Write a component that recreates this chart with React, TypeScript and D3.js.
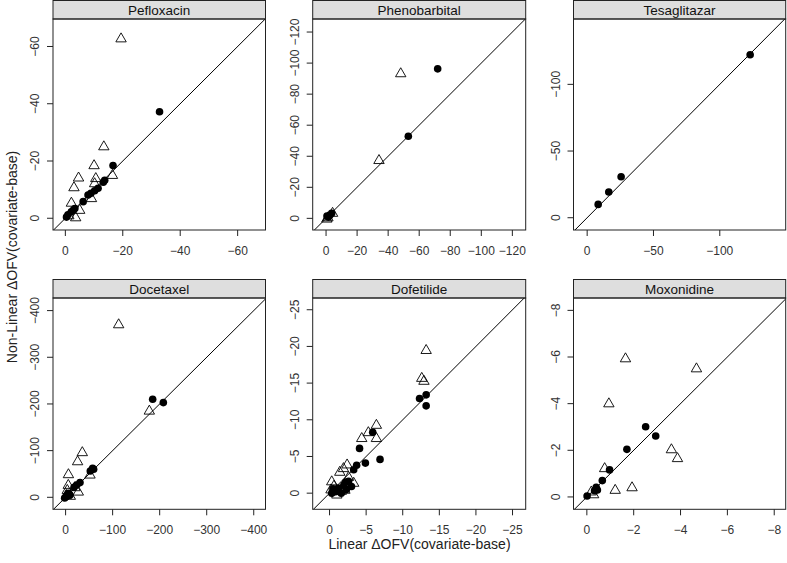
import React from "react";
import * as d3 from "d3";

// ---- data (values as plotted: ΔOFV, negative) ----
const drugNames = ["Pefloxacin", "Phenobarbital", "Tesaglitazar", "Docetaxel", "Dofetilide", "Moxonidine"];

const pefloxacinTri: [number, number][] = [
  [-19.4, -62.8], [-13.4, -25.1], [-10.0, -18.5], [-4.6, -14.2], [-3.0, -10.8], [-10.6, -14.0],
  [-16.4, -15.1], [-10.2, -12.2], [-9.1, -7.0], [-2.1, -5.4], [-5.0, -2.9], [-3.6, -0.3], [-1.2, -1.0],
];
const pefloxacinCir: [number, number][] = [
  [-32.8, -37.2], [-16.6, -18.4], [-13.7, -13.3], [-13.2, -12.6], [-11.4, -10.5], [-10.2, -9.6], [-8.9, -8.7],
  [-7.9, -8.1], [-6.2, -5.8], [-3.3, -3.4], [-2.1, -2.3], [-2.8, -2.9], [-0.9, -1.2], [-0.4, -0.4],
];

const phenobarbitalTri: [number, number][] = [
  [-48.1, -93.4], [-34.1, -37.5], [-4.2, -3.5], [-0.5, 0.2], [-1.2, -0.6],
];
const phenobarbitalCir: [number, number][] = [
  [-71.9, -96.3], [-53.0, -52.9], [-0.6, -1.5], [-1.5, -0.8], [-3.6, -3.3], [-2.3, -1.8],
];

const tesaglitazarTri: [number, number][] = [];
const tesaglitazarCir: [number, number][] = [
  [-122.9, -122.2], [-25.6, -30.7], [-16.3, -19.3], [-8.3, -10.0],
];

const docetaxelTri: [number, number][] = [
  [-112.8, -370.5], [-178.0, -185.5], [-35.5, -96.5], [-25.5, -77.0], [-6.0, -49.3], [-5.7, -26.4],
  [-3.6, -15.6], [-27.0, -12.0], [-20.0, -21.4], [-51.9, -48.5], [-1.5, -5.0], [-10.0, -3.0],
];
const docetaxelCir: [number, number][] = [
  [-185.1, -210.0], [-207.8, -202.9], [-59.6, -60.0], [-52.5, -56.4], [-57.4, -62.2], [-30.6, -31.5],
  [-23.4, -26.4], [-17.9, -21.4], [-5.7, -8.6], [-0.9, -1.3], [2.0, 1.5], [-9.4, -4.9], [-3.0, -3.0],
];

const dofetilideTri: [number, number][] = [
  [-13.2, -19.5], [-12.6, -15.7], [-12.9, -15.3], [-6.4, -9.3], [-5.3, -8.3], [-4.4, -7.5], [-6.4, -7.5],
  [-2.4, -3.9], [-1.9, -3.4], [-1.4, -2.9], [-0.3, -1.6], [-2.1, -0.45], [-3.3, -1.4], [-1.0, 0.2],
  [-0.6, -1.0], [-1.6, -0.3], [-0.2, -0.5], [-2.6, -2.2],
];
const dofetilideCir: [number, number][] = [
  [-12.3, -12.9], [-13.2, -13.4], [-13.2, -11.9], [-5.9, -8.3], [-4.1, -6.1], [-4.9, -4.1], [-6.9, -4.6],
  [-3.7, -3.8], [-3.3, -3.2], [-2.6, -1.6], [-1.95, -1.1], [-1.2, -0.7], [-0.3, 0.0], [-0.8, -0.2],
  [-3.0, -0.9], [-2.3, -0.5], [-1.6, 0.0], [-2.2, -1.5], [-0.5, -0.6], [-1.0, -0.3],
];

const moxonidineTri: [number, number][] = [
  [-1.65, -5.94], [-4.68, -5.51], [-0.94, -4.01], [-3.61, -2.04], [-3.87, -1.66], [-0.76, -1.23],
  [-1.21, -0.3], [-1.93, -0.41], [-0.19, -0.23], [-0.29, -0.11],
];
const moxonidineCir: [number, number][] = [
  [-2.51, -3.01], [-2.94, -2.61], [-1.71, -2.04], [-0.97, -1.16], [-0.66, -0.7], [-0.4, -0.41],
  [-0.33, -0.27], [-0.01, -0.04], [-0.45, -0.3],
];

const xDomains: [number, number][] = [[4.3, -69.7], [8.6, -128.6], [10.3, -149.7], [26.8, -425], [2.3, -26.8], [0.57, -8.49]];
const yDomains: [number, number][] = [[4.1, -69.6], [7.5, -128.4], [9.2, -149], [25.7, -427], [2.2, -26.6], [0.53, -8.53]];
const xTicks: number[][] = [[0, -20, -40, -60], [0, -20, -40, -60, -80, -100, -120], [0, -50, -100], [0, -100, -200, -300, -400], [0, -5, -10, -15, -20, -25], [0, -2, -4, -6, -8]];
const yTicks: number[][] = [[0, -20, -40, -60], [0, -20, -40, -60, -80, -100, -120], [0, -50, -100], [0, -100, -200, -300, -400], [0, -5, -10, -15, -20, -25], [0, -2, -4, -6, -8]];

const triData = [pefloxacinTri, phenobarbitalTri, tesaglitazarTri, docetaxelTri, dofetilideTri, moxonidineTri];
const cirData = [pefloxacinCir, phenobarbitalCir, tesaglitazarCir, docetaxelCir, dofetilideCir, moxonidineCir];

const xTitle = "Linear ΔOFV(covariate-base)";
const yTitle = "Non-Linear ΔOFV(covariate-base)";

// ---- layout ----
const W = 787;
const H = 563;
const cols = [
  { left: 53, right: 265.5 },
  { left: 312.7, right: 525.7 },
  { left: 573.5, right: 785.7 },
];
const rows = [
  { stripTop: 0.5, plotTop: 19, plotBottom: 230 },
  { stripTop: 279.5, plotTop: 298, plotBottom: 509.3 },
];
const FONT = "'Liberation Sans', Arial, Helvetica, sans-serif";

const fmt = (v: number) => (v < 0 ? "\u2212" + Math.abs(v) : String(v));

const triPath = "M0,-5.6L5.2,3.4L-5.2,3.4Z";

function Panel({ i }: { i: number }) {
  const c = cols[i % 3];
  const r = rows[Math.floor(i / 3)];
  const x = d3.scaleLinear().domain(xDomains[i]).range([c.left, c.right]);
  const y = d3.scaleLinear().domain(yDomains[i]).range([r.plotBottom, r.plotTop]);
  const clipId = `clip${i}`;
  const lo = Math.max(xDomains[i][0], yDomains[i][0]) * 2;
  const hi = Math.min(xDomains[i][1], yDomains[i][1]) * 2;
  const tick = 6;
  return (
    <g>
      <defs>
        <clipPath id={clipId}>
          <rect x={c.left} y={r.plotTop} width={c.right - c.left} height={r.plotBottom - r.plotTop} />
        </clipPath>
      </defs>
      {/* strip */}
      <rect x={c.left} y={r.stripTop} width={c.right - c.left} height={r.plotTop - r.stripTop} fill="#dedede" stroke="#222" strokeWidth={1} />
      <text x={(c.left + c.right) / 2} y={(r.stripTop + r.plotTop) / 2 + 4.8} textAnchor="middle" fontFamily={FONT} fontSize={13.5} fill="#111">
        {drugNames[i]}
      </text>
      {/* diagonal */}
      <g clipPath={`url(#${clipId})`}>
        <line x1={x(lo)} y1={y(lo)} x2={x(hi)} y2={y(hi)} stroke="#000" strokeWidth={1} />
        {triData[i].map((d, k) => (
          <path key={"t" + k} d={triPath} transform={`translate(${x(d[0])},${y(d[1])})`} fill="none" stroke="#000" strokeWidth={0.9} />
        ))}
        {cirData[i].map((d, k) => (
          <circle key={"c" + k} cx={x(d[0])} cy={y(d[1])} r={3.8} fill="#000" />
        ))}
      </g>
      {/* box */}
      <rect x={c.left} y={r.plotTop} width={c.right - c.left} height={r.plotBottom - r.plotTop} fill="none" stroke="#222" strokeWidth={1} />
      {/* x ticks */}
      {xTicks[i].map((t) => (
        <g key={"xt" + t}>
          <line x1={x(t)} x2={x(t)} y1={r.plotBottom} y2={r.plotBottom + tick} stroke="#222" />
          <text x={x(t)} y={r.plotBottom + 25} textAnchor="middle" fontFamily={FONT} fontSize={12} fill="#333">
            {fmt(t)}
          </text>
        </g>
      ))}
      {/* y ticks */}
      {yTicks[i].map((t) => (
        <g key={"yt" + t}>
          <line x1={c.left} x2={c.left - tick} y1={y(t)} y2={y(t)} stroke="#222" />
          <text transform={`translate(${c.left - 14},${y(t)}) rotate(-90)`} textAnchor="middle" fontFamily={FONT} fontSize={12} fill="#333">
            {fmt(t)}
          </text>
        </g>
      ))}
    </g>
  );
}

export default function App() {
  return (
    <svg width={W} height={H} style={{ position: "absolute", left: 0, top: 0, background: "#fff" }}>
      <rect x={0} y={0} width={W} height={H} fill="#fff" />
      {drugNames.map((_, i) => (
        <Panel key={i} i={i} />
      ))}
      <text x={419.5} y={549} textAnchor="middle" fontFamily={FONT} fontSize={14} fill="#222">
        {xTitle}
      </text>
      <text transform={`translate(17,257) rotate(-90)`} textAnchor="middle" fontFamily={FONT} fontSize={14} fill="#222">
        {yTitle}
      </text>
    </svg>
  );
}
